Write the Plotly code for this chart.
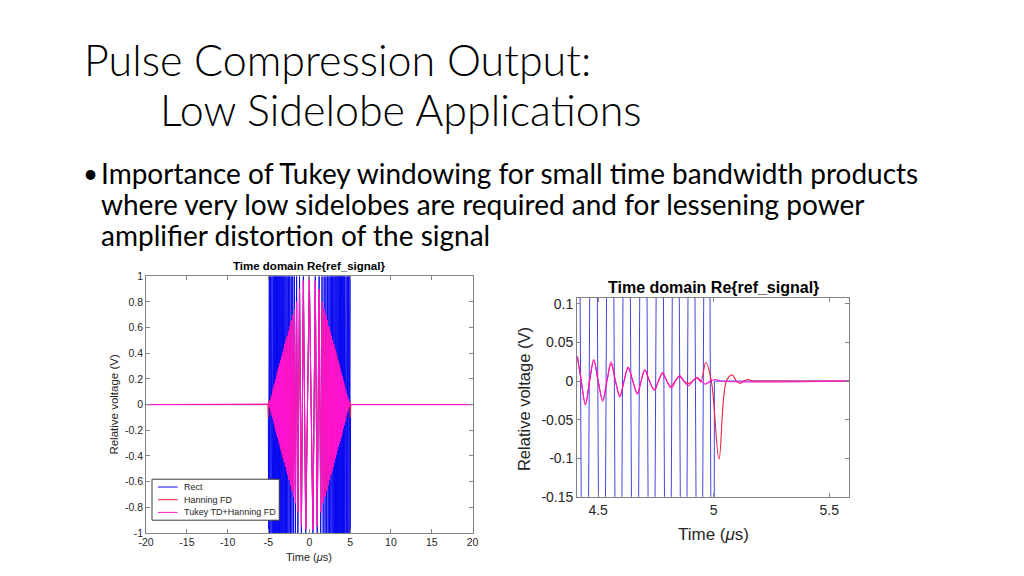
import plotly.graph_objects as go

# ---------------- data: left panel (full pulse, -20..20 us) ----------------
# positive-time half of the (even) real chirp; the negative half is its mirror image
left_t_pos = [0.0, 0.44, 0.73, 0.97, 1.2, 1.4, 1.56, 1.7, 1.82, 1.93,
              2.03, 2.13, 2.22, 2.31, 2.40, 2.48, 2.56, 2.64, 2.72, 2.79,
              2.86, 2.93, 3.00, 3.07, 3.14, 3.20, 3.26, 3.32, 3.38, 3.44,
              3.50, 3.56, 3.62, 3.67, 3.72, 3.77, 3.82, 3.87, 3.92, 3.97,
              4.02, 4.07, 4.12, 4.17, 4.22, 4.27, 4.32, 4.37, 4.42, 4.46,
              4.50, 4.54, 4.58, 4.62, 4.66, 4.70, 4.74, 4.78, 4.82, 4.86,
              4.90, 4.94, 4.98, 5.0, 5.02, 5.06, 20.0]
left_rect_pos = [1, -1, 1, -1, 1, -1, 1, -1, 1, -1,
                 1, -1, 1, -1, 1, -1, 1, -1, 1, -1,
                 1, -1, 1, -1, 1, -1, 1, -1, 1, -1,
                 1, -1, 1, -1, 1, -1, 1, -1, 1, -1,
                 1, -1, 1, -1, 1, -1, 1, -1, 1, -1,
                 1, -1, 1, -1, 1, -1, 1, -1, 1, -1,
                 1, -1, 1, -1, 0, 0, 0]
left_hann_pos = [1.0, -0.97, 0.96, -0.945, 0.895, -0.835, 0.795, -0.765, 0.74, -0.715,
                 0.695, -0.67, 0.65, -0.625, 0.605, -0.585, 0.565, -0.545, 0.53, -0.515,
                 0.495, -0.48, 0.465, -0.445, 0.43, -0.415, 0.40, -0.385, 0.37, -0.355,
                 0.34, -0.325, 0.315, -0.30, 0.29, -0.28, 0.265, -0.255, 0.24, -0.23,
                 0.215, -0.205, 0.19, -0.18, 0.165, -0.155, 0.14, -0.13, 0.115, -0.105,
                 0.095, -0.085, 0.075, -0.065, 0.057, -0.049, 0.041, -0.033, 0.025, -0.018,
                 0.012, -0.008, 0.024, 0.0, -0.10, 0.0, 0.0]
left_tukey_pos = [1.0, -0.975, 0.965, -0.95, 0.90, -0.84, 0.80, -0.77, 0.745, -0.72,
                  0.70, -0.675, 0.655, -0.63, 0.61, -0.59, 0.57, -0.55, 0.535, -0.52,
                  0.50, -0.485, 0.47, -0.45, 0.435, -0.42, 0.405, -0.39, 0.375, -0.36,
                  0.345, -0.33, 0.32, -0.305, 0.295, -0.285, 0.27, -0.26, 0.245, -0.235,
                  0.22, -0.21, 0.195, -0.185, 0.17, -0.16, 0.145, -0.135, 0.12, -0.11,
                  0.10, -0.09, 0.08, -0.07, 0.062, -0.054, 0.046, -0.038, 0.03, -0.022,
                  0.015, -0.009, 0.004, 0.0, 0.0, 0.0, 0.0]

left_xticks = [-20, -15, -10, -5, 0, 5, 10, 15, 20]
left_xticklabels = ["-20", "-15", "-10", "-5", "0", "5", "10", "15", "20"]
left_yticks = [-1, -0.8, -0.6, -0.4, -0.2, 0, 0.2, 0.4, 0.6, 0.8, 1]
left_yticklabels = ["-1", "-0.8", "-0.6", "-0.4", "-0.2", "0", "0.2", "0.4", "0.6", "0.8", "1"]

# ---------------- data: right panel (zoom on trailing edge) ----------------
right_rect_t = [4.37, 4.405, 4.443, 4.480, 4.517, 4.552, 4.588, 4.623, 4.660, 4.696,
                4.731, 4.767, 4.802, 4.836, 4.870, 4.904, 4.938, 4.972, 4.999, 5.003, 5.587]
right_rect_v = [-1, 1, -1, 1, -1, 1, -1, 1, -1, 1,
                -1, 1, -1, 1, -1, 1, -1, 1, -1, 0, 0]
right_hann_t = [4.41, 4.427, 4.445, 4.463, 4.481, 4.50, 4.52, 4.538, 4.556, 4.575,
                4.594, 4.612, 4.63, 4.65, 4.67, 4.686, 4.702, 4.722, 4.743, 4.761,
                4.779, 4.797, 4.814, 4.833, 4.852, 4.871, 4.89, 4.909, 4.928, 4.944,
                4.966, 4.99, 5.023, 5.055, 5.08, 5.098, 5.115, 5.132, 5.148, 5.17,
                5.2, 5.587]
right_hann_v = [0.032, 0.0, -0.030, 0.0, 0.027, 0.0, -0.025, 0.0, 0.022, 0.0,
                -0.019, 0.0, 0.017, 0.0, -0.016, 0.0, 0.014, 0.0, -0.011, 0.0,
                0.010, 0.0, -0.007, 0.0, 0.006, 0.0, -0.003, 0.0, 0.004, -0.001,
                0.024, 0.0, -0.101, 0.0, 0.008, 0.0, -0.003, 0.0, 0.002, 0.0,
                0.0, 0.0]
right_tukey_t = [4.41, 4.427, 4.445, 4.463, 4.481, 4.50, 4.52, 4.538, 4.556, 4.575,
                 4.594, 4.612, 4.63, 4.65, 4.67, 4.686, 4.702, 4.722, 4.743, 4.761,
                 4.779, 4.797, 4.817, 4.835, 4.853, 4.871, 4.89, 4.909, 4.928, 4.946,
                 4.965, 4.985, 5.005, 5.03, 5.587]
right_tukey_v = [0.032, 0.0, -0.031, 0.0, 0.028, 0.0, -0.026, 0.0, 0.025, 0.0,
                 -0.021, 0.0, 0.018, 0.0, -0.017, 0.0, 0.015, 0.0, -0.012, 0.0,
                 0.011, 0.0, -0.009, 0.0, 0.007, 0.0, -0.006, 0.0, 0.005, 0.0,
                 -0.004, 0.0, 0.002, 0.0, 0.0]

right_xticks = [4.5, 5, 5.5]
right_xticklabels = ["4.5", "5", "5.5"]
right_yticks = [-0.15, -0.1, -0.05, 0, 0.05, 0.1]
right_yticklabels = ["-0.15", "-0.1", "-0.05", "0", "0.05", "0.1"]

series_names = ["Rect", "Hanning FD", "Tukey TD+Hanning FD"]

slide_title = ["Pulse Compression Output:", "Low Sidelobe Applications"]
bullet_lines = ["Importance of Tukey windowing for small time bandwidth products",
                "where very low sidelobes are required and for lessening power",
                "amplifier distortion of the signal"]

# ---------------- helpers ----------------
def mirror(t_pos, v_pos):
    t = [-x for x in reversed(t_pos[1:])] + list(t_pos)
    v = list(reversed(v_pos[1:])) + list(v_pos)
    return t, v

BLUE = "rgb(10,10,240)"
RED = "rgb(238,30,60)"
MAG = "rgb(255,20,210)"
COLORS = [BLUE, RED, MAG]

W, H = 1024, 576
def px(x):
    return x / W
def py(y):
    return 1 - y / H

fig = go.Figure()

lt, lr = mirror(left_t_pos, left_rect_pos)
_, lh = mirror(left_t_pos, left_hann_pos)
_, lk = mirror(left_t_pos, left_tukey_pos)

for vals, name, col in zip([lr, lh, lk], series_names, COLORS):
    fig.add_trace(go.Scatter(x=lt, y=vals, mode="lines", name=name, showlegend=False,
                             line=dict(color=col, width=1), xaxis="x", yaxis="y"))

fig.add_trace(go.Scatter(x=right_rect_t, y=right_rect_v, mode="lines", showlegend=False,
                         name=series_names[0],
                         line=dict(color="rgb(70,70,225)", width=1), xaxis="x2", yaxis="y2"))
fig.add_trace(go.Scatter(x=right_hann_t, y=right_hann_v, mode="lines", showlegend=False,
                         name=series_names[1],
                         line=dict(color=RED, width=1.1, shape="spline", smoothing=1.0),
                         xaxis="x2", yaxis="y2"))
fig.add_trace(go.Scatter(x=right_tukey_t, y=right_tukey_v, mode="lines", showlegend=False,
                         name=series_names[2],
                         line=dict(color=MAG, width=1.1, shape="spline", smoothing=1.0),
                         xaxis="x2", yaxis="y2"))

AX = "rgb(130,130,130)"
TXT = "rgb(38,38,38)"
FONT = "Liberation Sans, Arial, sans-serif"

def axis(domain, rng, vals, texts, size, anchor):
    return dict(domain=domain, range=rng, tickvals=vals, ticktext=texts,
                showgrid=False, zeroline=False, showline=True, linecolor=AX, linewidth=1,
                mirror="ticks", ticks="inside", ticklen=4, tickcolor=AX, tickwidth=1,
                tickfont=dict(family=FONT, size=size, color=TXT), anchor=anchor)

fig.update_layout(
    width=W, height=H, margin=dict(l=0, r=0, t=0, b=0),
    paper_bgcolor="white", plot_bgcolor="white", showlegend=False,
    xaxis=axis([px(140), px(471)], [-20, 20], left_xticks, left_xticklabels, 10.5, "y"),
    yaxis=axis([py(540), py(277)], [-1, 1], left_yticks, left_yticklabels, 10.5, "x"),
    xaxis2=axis([px(577), px(853)], [4.409, 5.587], right_xticks, right_xticklabels, 14, "y2"),
    yaxis2=axis([py(503), py(299)], [-0.15, 0.108], right_yticks, right_yticklabels, 14, "x2"),
)

# manual legend box (compact, like the MATLAB one)
shapes = [dict(type="rect", xref="paper", yref="paper", x0=px(146), x1=px(275),
               y0=py(527), y1=py(485), line=dict(color="rgb(60,60,60)", width=1),
               fillcolor="white", layer="above")]
ann = []
for i, (name, col) in enumerate(zip(series_names, COLORS)):
    yy = 493 + 13 * i
    shapes.append(dict(type="line", xref="paper", yref="paper", x0=px(152), x1=px(172),
                       y0=py(yy), y1=py(yy), line=dict(color=col, width=1), layer="above"))
    ann.append(dict(x=px(176), y=py(yy), text=name, xanchor="left", yanchor="middle",
                    font=dict(family=FONT, size=9, color=TXT)))

# slide title
TF = "Lato, Open Sans, sans-serif"
ann.append(dict(x=px(75), y=py(55), text=slide_title[0], xanchor="left", yanchor="middle",
                font=dict(family=TF, size=43, color="black", weight=300)))
ann.append(dict(x=px(152), y=py(106), text=slide_title[1], xanchor="left", yanchor="middle",
                font=dict(family=TF, size=43, color="black", weight=300)))
# bullet
ann.append(dict(x=px(74), y=py(171), text="•", xanchor="left", yanchor="middle",
                font=dict(family=TF, size=26, color="black")))
for i, line in enumerate(bullet_lines):
    ann.append(dict(x=px(92), y=py(171 + 32 * i), text=line, xanchor="left", yanchor="middle",
                    font=dict(family=TF, size=28, color="black")))
# left chart labels
ann.append(dict(x=px(305), y=py(266), text="<b>Time domain Re{ref_signal}</b>",
                xanchor="center", yanchor="middle", font=dict(family=FONT, size=11.5, color="black")))
ann.append(dict(x=px(305), y=py(565), text="Time (<i>μ</i>s)",
                xanchor="center", yanchor="middle", font=dict(family=FONT, size=11, color=TXT)))
ann.append(dict(x=px(108), y=py(408), text="Relative voltage (V)", textangle=-90,
                xanchor="center", yanchor="middle", font=dict(family=FONT, size=11.5, color=TXT)))
# right chart labels
ann.append(dict(x=px(715), y=py(288), text="<b>Time domain Re{ref_signal}</b>",
                xanchor="center", yanchor="middle", font=dict(family=FONT, size=16, color="black")))
ann.append(dict(x=px(715), y=py(542), text="Time (<i>μ</i>s)",
                xanchor="center", yanchor="middle", font=dict(family=FONT, size=17, color=TXT)))
ann.append(dict(x=px(523), y=py(403), text="Relative voltage (V)", textangle=-90,
                xanchor="center", yanchor="middle", font=dict(family=FONT, size=16.5, color=TXT)))

for a in ann:
    a.update(xref="paper", yref="paper", showarrow=False)
fig.update_layout(annotations=ann, shapes=shapes)

fig.write_html("out.html", config={"displayModeBar": False},
               post_script="document.body.style.margin='0px';")
